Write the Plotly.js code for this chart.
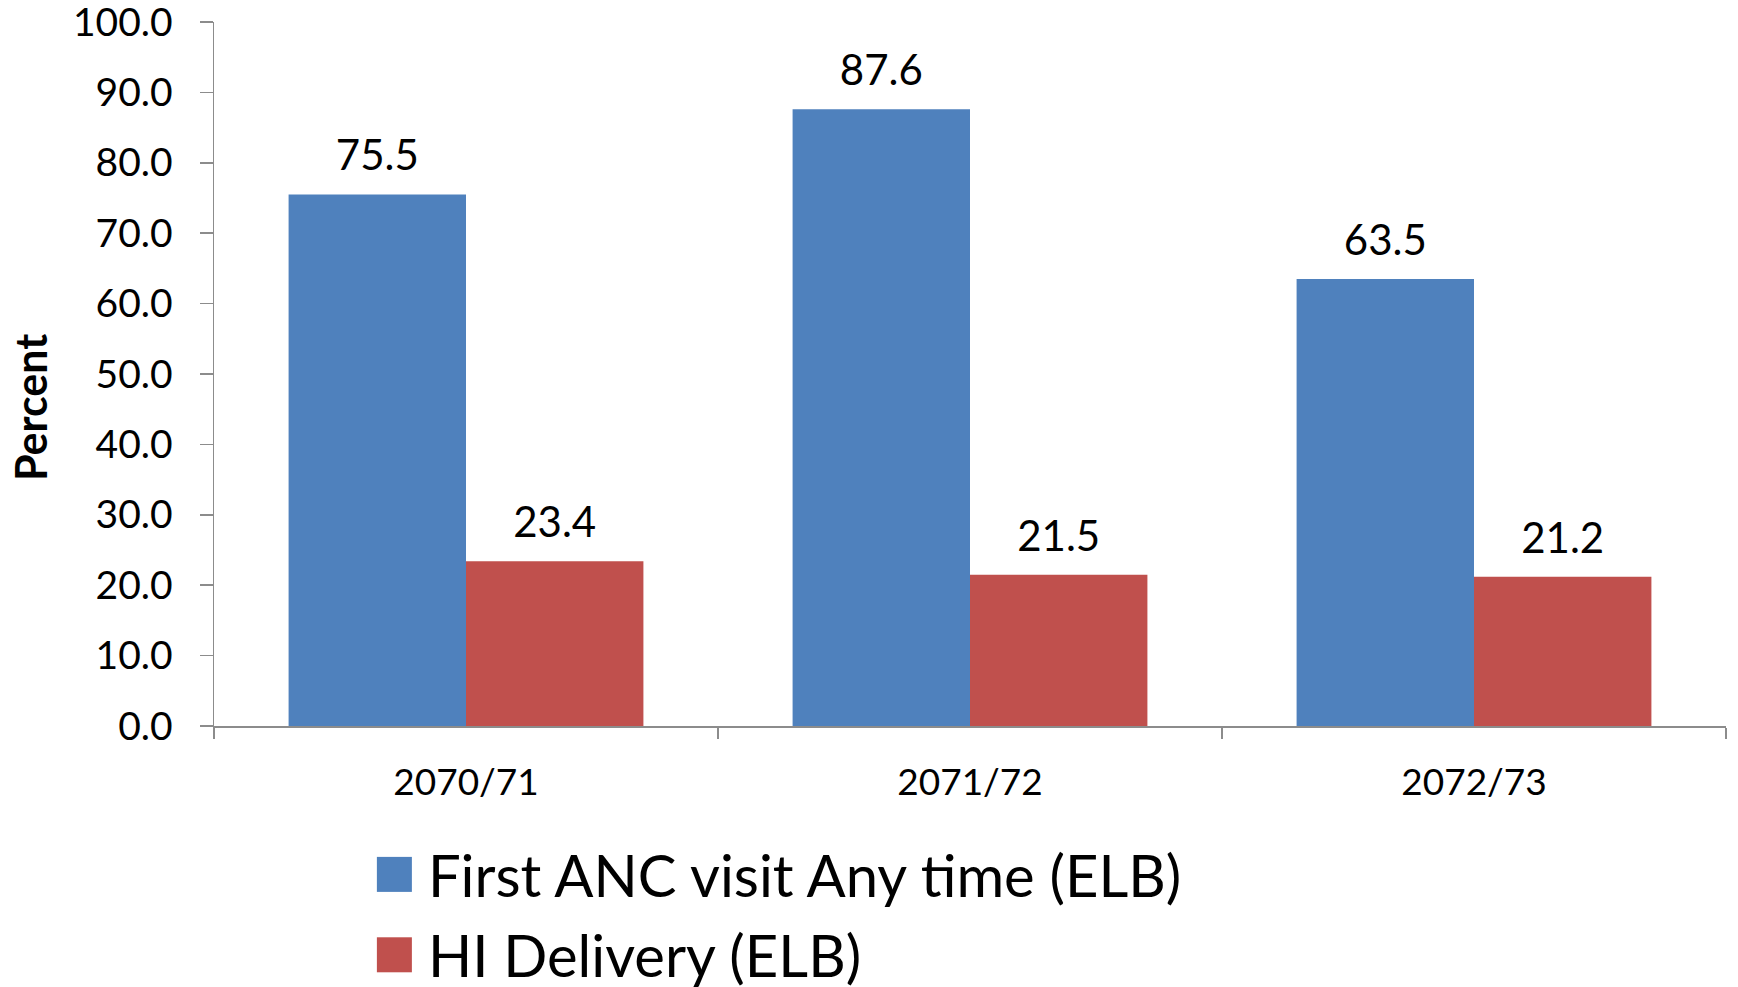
<!DOCTYPE html>
<html>
<head>
<meta charset="utf-8">
<script src="https://cdn.plot.ly/plotly-3.0.1.min.js"></script>
<style>html,body{margin:0;padding:0;background:#fff;}#chart{width:1738px;height:987px;}</style>
</head>
<body>
<div id="chart"></div>
<script>
const categories = ["2070/71", "2071/72", "2072/73"];
const firstAnc = [75.5, 87.6, 63.5];
const hiDelivery = [23.4, 21.5, 21.2];
const seriesNames = ["First ANC visit Any time (ELB)", "HI Delivery (ELB)"];
const yTicks = [0, 10, 20, 30, 40, 50, 60, 70, 80, 90, 100];
const yTitle = "Percent";

const FONT = "Lato, 'Open Sans', sans-serif";
const BLUE = "#4F81BD", RED = "#C0504D";
const COLORS = [BLUE, RED];

const traces = [
  {type: "bar", x: categories, y: firstAnc, name: seriesNames[0], legendgroup: "a",
   marker: {color: BLUE, line: {width: 0}}, hoverinfo: "y"},
  {type: "bar", x: categories, y: hiDelivery, name: seriesNames[1], legendgroup: "b",
   marker: {color: RED, line: {width: 0}}, hoverinfo: "y"},
  {type: "scatter", mode: "markers+text", x: categories, y: firstAnc, showlegend: false,
   text: firstAnc.map(v => v.toFixed(1)), textposition: "top center",
   textfont: {family: FONT, size: 42, color: "#000"}, marker: {size: 20, opacity: 0}, cliponaxis: false, hoverinfo: "skip"},
  {type: "scatter", mode: "markers+text", x: categories, y: hiDelivery, showlegend: false,
   text: hiDelivery.map(v => v.toFixed(1)), textposition: "top center",
   textfont: {family: FONT, size: 42, color: "#000"}, marker: {size: 20, opacity: 0}, cliponaxis: false, hoverinfo: "skip"}
];

const layout = {
  width: 1738, height: 987,
  paper_bgcolor: "#fff", plot_bgcolor: "#fff",
  font: {family: FONT, color: "#000"},
  margin: {l: 214, r: 12, t: 22, b: 261, autoexpand: false},
  barmode: "group", bargap: 0.296, bargroupgap: 0,
  scattermode: "group", scattergap: 0.296,
  showlegend: true,
  legend: {x: 0.115, xanchor: "left", y: -0.148, yanchor: "top", orientation: "v",
           font: {family: FONT, size: 58, color: "#000"}, tracegroupgap: 2,
           bgcolor: "rgba(0,0,0,0)", borderwidth: 0},
  xaxis: {type: "category", showgrid: false, showline: true, linecolor: "#8c8c8c", linewidth: 1.5,
          ticks: "outside", tickson: "boundaries", ticklen: 11, tickcolor: "#8c8c8c", tickwidth: 1.5,
          tickfont: {family: FONT, size: 37, color: "#000"}, ticklabelstandoff: 23, zeroline: false},
  yaxis: {range: [0, 100], tickvals: yTicks, ticktext: yTicks.map(v => v.toFixed(1)),
          showgrid: false, zeroline: false, showline: true, linecolor: "#8c8c8c", linewidth: 1.5,
          ticks: "outside", ticklen: 13, tickcolor: "#8c8c8c", tickwidth: 1.5, ticklabeloverflow: "allow",
          tickfont: {family: FONT, size: 39, color: "#000"}, ticklabelstandoff: 19},
  annotations: [{text: "<b>" + yTitle + "</b>", xref: "paper", yref: "paper", x: -0.1217, y: 0.453,
                 xanchor: "center", yanchor: "middle", textangle: -90, showarrow: false,
                 font: {family: FONT, size: 43, color: "#000"}}]
};

Plotly.newPlot("chart", traces, layout, {displayModeBar: false, staticPlot: true}).then(gd => {
  const ns = "http://www.w3.org/2000/svg";
  gd.querySelectorAll(".legend [clip-path]").forEach(e => e.removeAttribute("clip-path"));
  gd.querySelectorAll(".legend .traces").forEach((g, i) => {
    const pts = g.querySelector(".legendpoints");
    if (pts) pts.style.display = "none";
    const r = document.createElementNS(ns, "rect");
    r.setAttribute("x", "-11"); r.setAttribute("y", "-17.5");
    r.setAttribute("width", "35"); r.setAttribute("height", "35");
    r.setAttribute("fill", COLORS[i]);
    g.appendChild(r);
  });
});
</script>
</body>
</html>
